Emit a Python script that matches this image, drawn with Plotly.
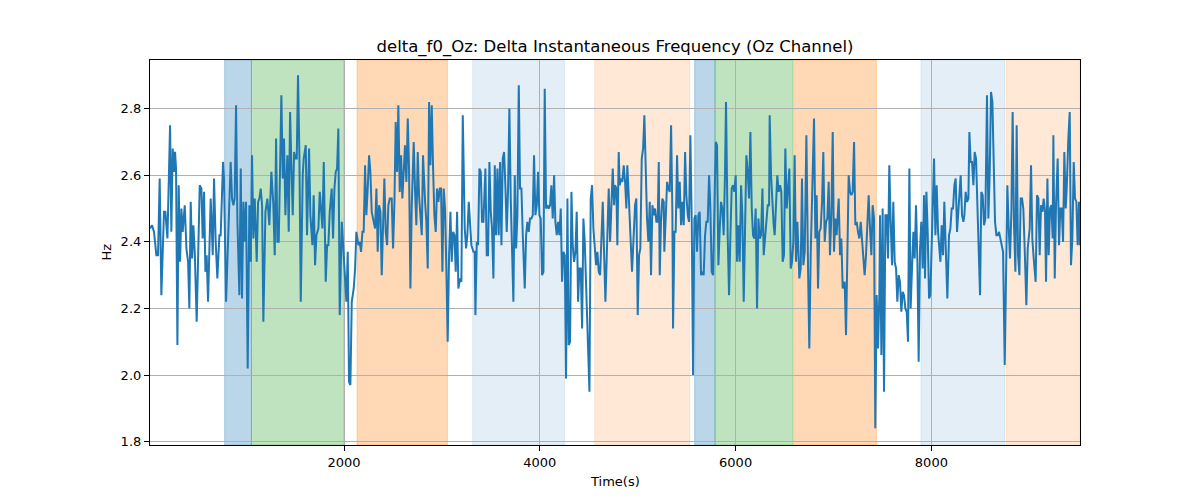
import plotly.graph_objects as go

# ---- data ----
time_s = [
    18, 39, 59, 83, 100, 117, 134, 161, 175, 196, 223, 236, 250, 264, 274, 284, 298, 311, 325, 339,
    352, 373, 390, 407, 420, 434, 448, 461, 475, 495, 526, 543, 556, 570, 584, 597, 611, 638, 659, 672,
    689, 706, 727, 740, 764, 774, 795, 822, 842, 856, 870, 883, 897, 911, 931, 945, 958, 972, 986, 999,
    1016, 1033, 1047, 1060, 1074, 1088, 1108, 1122, 1135, 1149, 1163, 1176, 1197, 1217, 1237, 1258, 1278, 1292, 1306, 1319,
    1333, 1346, 1360, 1374, 1387, 1401, 1421, 1435, 1449, 1462, 1476, 1490, 1503, 1517, 1530, 1544, 1558, 1578,
    1588, 1609, 1622, 1643, 1656, 1677, 1690, 1704, 1718, 1738, 1752, 1765, 1779, 1793, 1813, 1827, 1840, 1854, 1874, 1888,
    1902, 1915, 1929, 1942, 1956, 1977, 1990, 2007, 2024, 2038, 2051, 2065, 2079, 2099, 2113, 2126, 2147, 2160, 2174, 2188,
    2201, 2215, 2228, 2242, 2256, 2269, 2283, 2303, 2317, 2331, 2344, 2358, 2372, 2385, 2399, 2412, 2426, 2440, 2453, 2467,
    2487, 2501, 2515, 2528, 2542, 2555, 2569, 2583, 2596, 2610, 2623, 2637, 2651, 2664, 2678, 2692, 2712, 2726, 2739, 2753,
    2766, 2794, 2807, 2828, 2841, 2855, 2869, 2882, 2896, 2909, 2923, 2937, 2950, 2964, 2978, 2991, 3005, 3018, 3032, 3046,
    3059, 3073, 3087, 3100, 3114, 3128, 3141, 3155, 3168,
    3185, 3199, 3213, 3233, 3247, 3260, 3274, 3288, 3301, 3322, 3335, 3342, 3356, 3369, 3383, 3397, 3410, 3424, 3444, 3458,
    3471, 3485, 3499, 3512, 3526, 3540, 3553, 3567, 3580, 3594, 3608, 3621, 3635, 3649, 3662, 3676, 3689, 3703, 3717, 3730,
    3744, 3758, 3771, 3785, 3798, 3812, 3826, 3846, 3860, 3873, 3887, 3900, 3914, 3928, 3941, 3955, 3969, 3982, 3996, 4009,
    4023, 4037, 4050, 4064, 4078, 4091, 4105, 4118, 4132, 4146, 4159, 4173, 4187, 4200, 4214, 4227, 4241, 4255, 4268, 4282,
    4295, 4309, 4323, 4336, 4350, 4364, 4377, 4391, 4404, 4418, 4432, 4445, 4459, 4479, 4493, 4507, 4520, 4534, 4547, 4561,
    4575, 4588, 4602, 4616, 4629, 4643, 4656, 4670, 4684, 4704, 4718, 4731, 4745, 4759,
    4768, 4782, 4792, 4806, 4816, 4830, 4843, 4857, 4871, 4884, 4894, 4905, 4918, 4932, 4942, 4956, 4973, 4986, 5000, 5014,
    5027, 5041, 5055, 5068, 5082, 5095, 5109, 5123, 5136, 5150, 5163, 5177, 5191, 5204, 5215, 5225, 5238, 5252, 5266, 5272,
    5286, 5300, 5313, 5327, 5341, 5354, 5361, 5375, 5388, 5402, 5415, 5429, 5443, 5456, 5470, 5484, 5497, 5511, 5524, 5538,
    5552, 5565, 5579, 5592, 5606, 5620, 5633, 5647, 5661, 5674, 5688, 5701, 5715, 5729, 5742, 5756, 5770, 5783, 5797, 5810,
    5824, 5838, 5851, 5865, 5878, 5892, 5902, 5919, 5933, 5947, 5960, 5974, 5987, 6001, 6015, 6028, 6042, 6056, 6069, 6083,
    6096, 6110, 6124, 6137, 6151, 6165, 6178, 6192, 6205, 6219, 6233, 6246, 6260, 6274, 6287, 6301, 6314, 6328, 6342,
    6348, 6362, 6375, 6389, 6399, 6413, 6426, 6440, 6454, 6467, 6481, 6494, 6508, 6522, 6535, 6549, 6563, 6576, 6590, 6603,
    6617, 6631, 6651, 6665, 6678, 6692, 6706, 6723, 6740, 6753, 6767, 6781, 6801, 6815, 6828, 6842, 6855, 6869, 6883, 6896,
    6910, 6924, 6937, 6951, 6964, 6978, 6992, 7005, 7019, 7032, 7053, 7067, 7080, 7094, 7114, 7128, 7141, 7155, 7169, 7182,
    7196, 7210, 7223, 7237, 7250, 7264, 7278, 7291, 7305, 7318, 7332, 7346, 7359, 7373, 7387, 7400, 7414, 7427, 7441, 7455,
    7468, 7475, 7489, 7502, 7516, 7530, 7543, 7557, 7570, 7584, 7598, 7611, 7625, 7639, 7652, 7666, 7679, 7693, 7707, 7720,
    7734, 7748, 7761, 7775, 7788, 7802, 7816, 7829, 7843, 7857, 7870, 7884, 7897, 7911, 7925,
    7935, 7949, 7962, 7976, 7989, 8003, 8027, 8041, 8054, 8068, 8081, 8092, 8105, 8119, 8132, 8146, 8163, 8180, 8194, 8207,
    8221, 8235, 8248, 8262, 8275, 8289, 8299, 8313, 8327, 8337, 8350, 8364, 8378, 8388, 8401, 8415, 8429, 8442, 8456, 8470,
    8483, 8497, 8510, 8524, 8538, 8551, 8568, 8582, 8596, 8609, 8623, 8636, 8650, 8664, 8677, 8691, 8705, 8718, 8732, 8749,
    8762, 8776, 8790, 8803, 8817, 8830, 8844, 8858, 8871, 8885, 8899, 8912, 8926, 8939, 8953, 8970, 8984, 9004, 9018, 9031,
    9045, 9065, 9079, 9093, 9106, 9120, 9134, 9147, 9161, 9171, 9185, 9198, 9212, 9226, 9239, 9246, 9260, 9273, 9290, 9304,
    9317, 9331, 9345, 9358, 9372, 9382, 9399, 9413, 9426, 9440, 9454, 9467, 9481, 9494, 9508, 9518,
]

delta_f0_hz = [
    2.44, 2.45, 2.43, 2.36, 2.36, 2.59, 2.24, 2.49, 2.49, 2.41, 2.75, 2.43, 2.68, 2.61, 2.67, 2.62, 2.09, 2.57, 2.34, 2.50,
    2.43, 2.51, 2.38, 2.34, 2.20, 2.52, 2.35, 2.45, 2.37, 2.16, 2.57, 2.56, 2.41, 2.55, 2.31, 2.36, 2.22, 2.53, 2.36, 2.59,
    2.40, 2.29, 2.42, 2.42, 2.64, 2.59, 2.22, 2.49, 2.64, 2.53, 2.51, 2.53, 2.81, 2.46, 2.24, 2.62, 2.23, 2.52, 2.40, 2.52,
    2.02, 2.51, 2.34, 2.66, 2.41, 2.53, 2.34, 2.52, 2.53, 2.56, 2.51, 2.16, 2.49, 2.53, 2.45, 2.61, 2.51, 2.36, 2.71, 2.40,
    2.40, 2.61, 2.84, 2.59, 2.71, 2.48, 2.66, 2.43, 2.79, 2.63, 2.48, 2.67, 2.65, 2.65, 2.90, 2.66, 2.22, 2.60,
    2.65, 2.69, 2.42, 2.68, 2.48, 2.39, 2.54, 2.33, 2.42, 2.44, 2.55, 2.50, 2.44, 2.64, 2.28, 2.39, 2.39, 2.49, 2.56, 2.41,
    2.56, 2.61, 2.62, 2.74, 2.18, 2.46, 2.40, 2.32, 2.22, 2.37, 1.98, 1.97, 2.22, 2.26, 2.32, 2.43, 2.39, 2.40, 2.37, 2.43,
    2.43, 2.63, 2.48, 2.56, 2.66, 2.61, 2.49, 2.46, 2.44, 2.56, 2.37, 2.51, 2.49, 2.30, 2.48, 2.59, 2.43, 2.39, 2.51, 2.53,
    2.53, 2.38, 2.52, 2.76, 2.61, 2.81, 2.55, 2.66, 2.53, 2.63, 2.69, 2.58, 2.77, 2.62, 2.26, 2.51, 2.70, 2.55, 2.45, 2.67,
    2.54, 2.42, 2.66, 2.52, 2.46, 2.32, 2.82, 2.63, 2.81, 2.63, 2.48, 2.43, 2.56, 2.52, 2.56, 2.56, 2.31, 2.56, 2.50, 2.31,
    2.10, 2.36, 2.49, 2.34, 2.43, 2.42, 2.31, 2.49, 2.26,
    2.29, 2.28, 2.78, 2.44, 2.38, 2.42, 2.52, 2.45, 2.39, 2.37, 2.37, 2.18, 2.40, 2.39, 2.62, 2.61, 2.46, 2.46, 2.62, 2.36,
    2.36, 2.64, 2.49, 2.44, 2.29, 2.63, 2.42, 2.62, 2.42, 2.64, 2.39, 2.65, 2.67, 2.56, 2.43, 2.56, 2.80, 2.53, 2.38, 2.22,
    2.60, 2.38, 2.48, 2.87, 2.56, 2.56, 2.42, 2.26, 2.42, 2.46, 2.43, 2.47, 2.47, 2.48, 2.66, 2.48, 2.51, 2.61, 2.48, 2.47,
    2.30, 2.31, 2.86, 2.50, 2.51, 2.50, 2.51, 2.57, 2.47, 2.60, 2.46, 2.42, 2.46, 2.42, 2.50, 2.28, 2.37, 2.36, 1.99, 2.53,
    2.09, 2.10, 2.55, 2.39, 2.34, 2.37, 2.49, 2.22, 2.32, 2.32, 2.14, 2.47, 2.40, 2.21, 2.04, 1.95, 2.53, 2.57, 2.44, 2.38,
    2.33, 2.37, 2.31, 2.30, 2.44, 2.52, 2.37, 2.22, 2.36, 2.56, 2.40, 2.49, 2.62, 2.51,
    2.57, 2.56, 2.39, 2.67, 2.57, 2.59, 2.58, 2.63, 2.58, 2.50, 2.63, 2.56, 2.48, 2.39, 2.31, 2.40, 2.51, 2.53, 2.18, 2.36,
    2.38, 2.65, 2.68, 2.78, 2.56, 2.47, 2.40, 2.52, 2.30, 2.51, 2.48, 2.50, 2.46, 2.46, 2.64, 2.30, 2.46, 2.53, 2.52, 2.37,
    2.47, 2.58, 2.56, 2.55, 2.75, 2.49, 2.14, 2.43, 2.43, 2.66, 2.50, 2.58, 2.45, 2.52, 2.45, 2.67, 2.54, 2.48, 2.46, 2.72,
    2.46, 2.00, 2.47, 2.48, 2.37, 2.48, 2.49, 2.30, 2.31, 2.30, 2.42, 2.46, 2.46, 2.60, 2.50, 2.31, 2.30, 2.56, 2.70, 2.69,
    2.33, 2.44, 2.52, 2.50, 2.42, 2.61, 2.82, 2.42, 2.24, 2.42, 2.56, 2.57, 2.55, 2.60, 2.34, 2.45, 2.34, 2.57, 2.48, 2.22,
    2.47, 2.66, 2.61, 2.53, 2.73, 2.50, 2.42, 2.41, 2.50, 2.20, 2.47, 2.41, 2.42, 2.56, 2.36, 2.41, 2.44, 2.51, 2.51,
    2.78, 2.60, 2.50, 2.45, 2.42, 2.52, 2.60, 2.55, 2.57, 2.55, 2.34, 2.36, 2.68, 2.50, 2.55, 2.62, 2.32, 2.34, 2.40, 2.66,
    2.34, 2.46, 2.29, 2.32, 2.59, 2.33, 2.37, 2.72, 2.32, 2.08, 2.36, 2.52, 2.77, 2.41, 2.54, 2.26, 2.43, 2.44, 2.52, 2.67,
    2.40, 2.46, 2.47, 2.58, 2.36, 2.48, 2.73, 2.37, 2.47, 2.42, 2.53, 2.36, 2.41, 2.26, 2.28, 2.12, 2.40, 2.60, 2.55, 2.54,
    2.55, 2.70, 2.45, 2.46, 2.43, 2.41, 2.46, 2.40, 2.34, 2.30, 2.36, 2.46, 2.54, 2.44, 2.36, 2.51, 2.47, 1.84, 2.24, 2.08,
    2.24, 2.48, 2.06, 2.50, 1.95, 2.48, 2.48, 2.35, 2.63, 2.46, 2.33, 2.52, 2.34, 2.32, 2.22, 2.30, 2.28, 2.19, 2.25, 2.24,
    2.20, 2.19, 2.10, 2.62, 2.20, 2.32, 2.43, 2.35, 2.51, 2.34, 2.04, 2.38, 2.46, 2.32, 2.54,
    2.29, 2.55, 2.43, 2.23, 2.24, 2.40, 2.65, 2.42, 2.57, 2.43, 2.37, 2.34, 2.45, 2.36, 2.52, 2.37, 2.23, 2.42, 2.44, 2.50,
    2.50, 2.57, 2.59, 2.43, 2.50, 2.54, 2.60, 2.48, 2.46, 2.48, 2.55, 2.52, 2.53, 2.73, 2.64, 2.64, 2.57, 2.67, 2.65, 2.51,
    2.36, 2.24, 2.55, 2.54, 2.45, 2.47, 2.84, 2.47, 2.61, 2.85, 2.82, 2.61, 2.46, 2.42, 2.42, 2.43, 2.41, 2.39, 2.37, 2.03,
    2.34, 2.57, 2.44, 2.35, 2.49, 2.79, 2.45, 2.31, 2.75, 2.36, 2.30, 2.53, 2.53, 2.50, 2.38, 2.21, 2.38, 2.44, 2.63, 2.41,
    2.35, 2.28, 2.54, 2.53, 2.36, 2.51, 2.49, 2.53, 2.49, 2.28, 2.59, 2.36, 2.50, 2.51, 2.41, 2.72, 2.29, 2.51, 2.65, 2.39,
    2.50, 2.50, 2.40, 2.67, 2.50, 2.56, 2.71, 2.79, 2.33, 2.41, 2.64, 2.53, 2.52, 2.39, 2.52, 2.39,
]

# shaded periods: (start, end, colour, opacity)
span_starts = [781, 1054, 2133, 3315, 4561, 5582, 5790, 6593, 7894, 8766]
span_ends = [1054, 2000, 3056, 4251, 5531, 5790, 6583, 7438, 8749, 9518]
span_colors = ["#1f77b4", "#2ca02c", "#ff7f0e", "#1f77b4", "#ff7f0e",
               "#1f77b4", "#2ca02c", "#ff7f0e", "#1f77b4", "#ff7f0e"]
span_alphas = [0.3, 0.3, 0.3, 0.12, 0.17, 0.3, 0.3, 0.3, 0.12, 0.17]

x_ticks = [2000, 4000, 6000, 8000]
y_ticks = [1.8, 2.0, 2.2, 2.4, 2.6, 2.8]
x_range = [18, 9518]
y_range = [1.790, 2.946]


def rgba(hex_color, a):
    h = hex_color.lstrip("#")
    r, g, b = int(h[0:2], 16), int(h[2:4], 16), int(h[4:6], 16)
    return f"rgba({r},{g},{b},{a})"


fig = go.Figure()

shapes = []
for s, e, c, a in zip(span_starts, span_ends, span_colors, span_alphas):
    shapes.append(dict(
        type="rect", xref="x", yref="paper", x0=s, x1=e, y0=0, y1=1,
        fillcolor=rgba(c, a), line=dict(color=rgba(c, a), width=1), layer="below",
    ))

fig.add_trace(go.Scatter(
    x=time_s, y=delta_f0_hz, mode="lines",
    line=dict(color="#1f77b4", width=2), showlegend=False,
))

font_family = "DejaVu Sans, Arial, sans-serif"

# the page body adds an 8px offset; the figure is sized to compensate
FIG_W, FIG_H = 1192, 492

fig.update_layout(
    width=FIG_W, height=FIG_H,
    margin=dict(l=142, r=120, t=52, b=55),
    paper_bgcolor="white", plot_bgcolor="white",
    shapes=shapes,
    font=dict(family=font_family, size=13, color="black"),
    title=dict(
        text="delta_f0_Oz: Delta Instantaneous Frequency (Oz Channel)",
        x=0.5, xref="paper", xanchor="center",
        y=1 - 38 / FIG_H, yref="container", yanchor="middle",
        font=dict(family=font_family, size=16.5, color="black"),
    ),
    xaxis=dict(
        range=x_range, tickvals=x_ticks, ticktext=[str(v) for v in x_ticks],
        showgrid=True, gridcolor="#b0b0b0", gridwidth=1,
        showline=True, linecolor="black", linewidth=1.2, mirror=True,
        ticks="outside", ticklen=5, tickcolor="black", tickwidth=1.2,
        zeroline=False, tickfont=dict(size=13),
    ),
    yaxis=dict(
        range=y_range, tickvals=y_ticks, ticktext=[f"{v:.1f}" for v in y_ticks],
        showgrid=True, gridcolor="#b0b0b0", gridwidth=1,
        showline=True, linecolor="black", linewidth=1.2, mirror=True,
        ticks="outside", ticklen=5, tickcolor="black", tickwidth=1.2,
        zeroline=False, tickfont=dict(size=13),
    ),
    annotations=[
        dict(text="Time(s)", xref="paper", yref="paper", x=0.5, y=(445 - 481) / 385,
             xanchor="center", yanchor="middle", showarrow=False,
             font=dict(family=font_family, size=13, color="black")),
        dict(text="Hz", xref="paper", yref="paper", x=(106 - 150) / 930, y=0.5,
             xanchor="center", yanchor="middle", showarrow=False, textangle=-90,
             font=dict(family=font_family, size=13, color="black")),
    ],
)

fig.write_html("out.html")
